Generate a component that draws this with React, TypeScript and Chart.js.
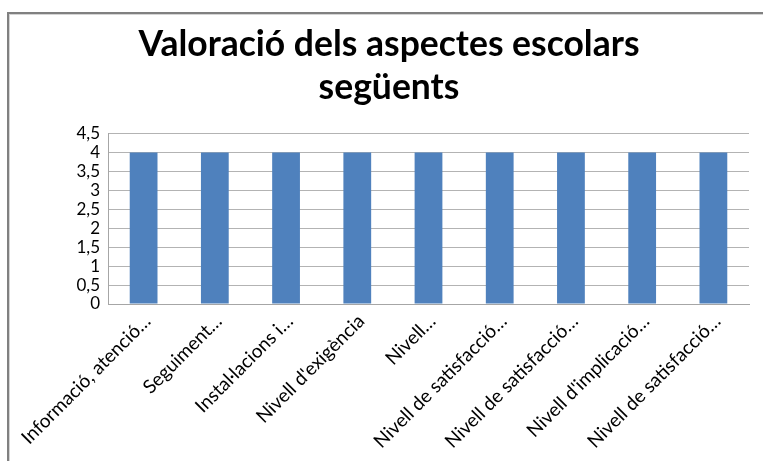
import React, { useEffect, useRef } from "react";
import { Chart, registerables } from "chart.js";

Chart.register(...registerables);

const TITLE_LINES = ["Valoració dels aspectes escolars", "següents"];
const CATEGORIES = [
  "Informació, atenció…",
  "Seguiment…",
  "Instal·lacions i…",
  "Nivell d'exigència",
  "Nivell…",
  "Nivell de satisfacció…",
  "Nivell de satisfacció…",
  "Nivell d'implicació…",
  "Nivell de satisfacció…",
];
const VALUES = [4, 4, 4, 4, 4, 4, 4, 4, 4];
const Y_MIN = 0;
const Y_MAX = 4.5;
const Y_STEP = 0.5;

const FONT = "Lato, 'Open Sans', sans-serif";

export default function App() {
  const ref = useRef<HTMLCanvasElement | null>(null);

  useEffect(() => {
    if (!ref.current) return;
    const chart = new Chart(ref.current, {
      type: "bar",
      data: {
        labels: CATEGORIES,
        datasets: [
          {
            data: VALUES,
            backgroundColor: "#4F81BD",
            borderWidth: 0,
            categoryPercentage: 1,
            barPercentage: 0.39,
          },
        ],
      },
      options: {
        responsive: false,
        animation: false,
        layout: { padding: { left: 29, right: 14, top: 0, bottom: 0 } },
        plugins: {
          legend: { display: false },
          tooltip: { enabled: false },
          title: {
            display: true,
            text: TITLE_LINES,
            color: "#000",
            font: { family: FONT, size: 35.5, weight: "bold", lineHeight: 1.22 },
            padding: { top: 23, bottom: 24 },
          },
        },
        scales: {
          x: {
            grid: { display: false, drawTicks: false },
            border: { display: true, color: "#a6a6a6", width: 1 },
            ticks: {
              color: "#000",
              font: { family: FONT, size: 19 },
              autoSkip: false,
              maxRotation: 45,
              minRotation: 45,
              labelOffset: 4,
              padding: 6,
            },
            afterFit: (s: any) => {
              s.height = 157;
            },
          },
          y: {
            min: Y_MIN,
            max: Y_MAX,
            grid: { color: "#b3b3b3", lineWidth: 1, drawTicks: false },
            border: { display: true, color: "#a6a6a6", width: 1 },
            ticks: {
              stepSize: Y_STEP,
              autoSkip: false,
              color: "#000",
              font: { family: FONT, size: 17, lineHeight: 1 },
              padding: 8,
              callback: (v: any) => String(v).replace(".", ","),
            },
            afterFit: (s: any) => {
              s.width = 79;
            },
          },
        },
      },
    });
    return () => chart.destroy();
  }, []);

  return (
    <div
      style={{
        position: "fixed",
        left: 0,
        top: 0,
        width: 763,
        height: 461,
        background: "#fff",
        overflow: "hidden",
      }}
    >
      <div
        style={{
          position: "absolute",
          left: 7,
          top: 12,
          width: 800,
          height: 500,
          borderLeft: "2px solid #808080",
          borderTop: "2px solid #808080",
          boxShadow: "inset 1px 1px 0 #d4d4d4",
        }}
      />
      <canvas
        ref={ref}
        width={763}
        height={461}
        style={{ position: "absolute", left: 0, top: 0, width: 763, height: 461 }}
      />
    </div>
  );
}
